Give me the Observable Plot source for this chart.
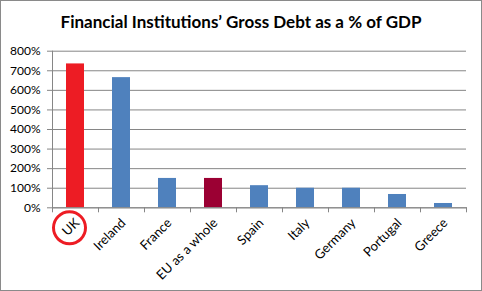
<!DOCTYPE html>
<html><head><meta charset="utf-8">
<script src="https://cdn.jsdelivr.net/npm/d3@7"></script>
<script src="https://cdn.jsdelivr.net/npm/@observablehq/plot@0.6"></script>
<style>
html,body{margin:0;padding:0;background:#fff;}
#chart{position:relative;width:482px;height:291px;box-sizing:border-box;border:1px solid #8a8a8a;background:#fff;overflow:hidden;}
#title{height:38px;box-sizing:border-box;padding-top:12px;text-align:center;font:bold 17px Lato,sans-serif;line-height:17px;color:#000;}
svg{display:block;}
</style></head>
<body><div id="chart"><div id="title">Financial Institutions’ Gross Debt as a % of GDP</div></div>
<script>
const categories = ["UK","Ireland","France","EU as a whole","Spain","Italy","Germany","Portugal","Greece"];
const values = [735, 665, 150, 150, 113, 100, 100, 68, 22];
const yTicks = [0, 100, 200, 300, 400, 500, 600, 700, 800];
const highlighted = ["UK"];

const data = categories.map((c, i) => ({country: c, value: values[i]}));
const RED = "#ed1c24", BLUE = "#4f81bd", MAROON = "#9b0033", GRID = "#868686";
const fillOf = d => d.country === "UK" ? RED : d.country === "EU as a whole" ? MAROON : BLUE;

const plot = Plot.plot({
  width: 480,
  height: 251,
  marginTop: 11.7,
  marginBottom: 82.7,
  marginLeft: 51,
  marginRight: 15,
  style: {fontFamily: "Lato, sans-serif", fontSize: "12px", color: "#000", background: "#fff"},
  x: {domain: categories, paddingInner: 0.6, paddingOuter: 0.3, label: null},
  y: {domain: [0, 800], label: null},
  marks: [
    Plot.gridY(yTicks, {stroke: GRID, strokeOpacity: 1}),
    Plot.barY(data, {x: "country", y: "value", fill: fillOf}),
    Plot.frame({anchor: "left", stroke: GRID}),
    Plot.frame({anchor: "bottom", stroke: GRID}),
    Plot.ruleX(categories, {x: d => d, y1: () => 0, y2: () => 0, insetBottom: -5, dx: -23, stroke: GRID}),
    Plot.ruleX(categories.slice(-1), {x: d => d, y1: () => 0, y2: () => 0, insetBottom: -5, dx: 23, stroke: GRID}),
    Plot.axisY(yTicks, {tickFormat: d => d + "%", tickSize: 5, tickPadding: 7, stroke: GRID, fontSize: 12}),
    Plot.axisX({tickRotate: -45, tickSize: 0, tickPadding: 13, dx: 2, fontSize: 13}),
    Plot.dot(highlighted, {x: d => d, y: () => 0, r: 16, dx: -6, dy: 20, stroke: RED, strokeWidth: 3, fill: "none"})
  ]
});
document.getElementById("chart").appendChild(plot);
</script></body></html>
